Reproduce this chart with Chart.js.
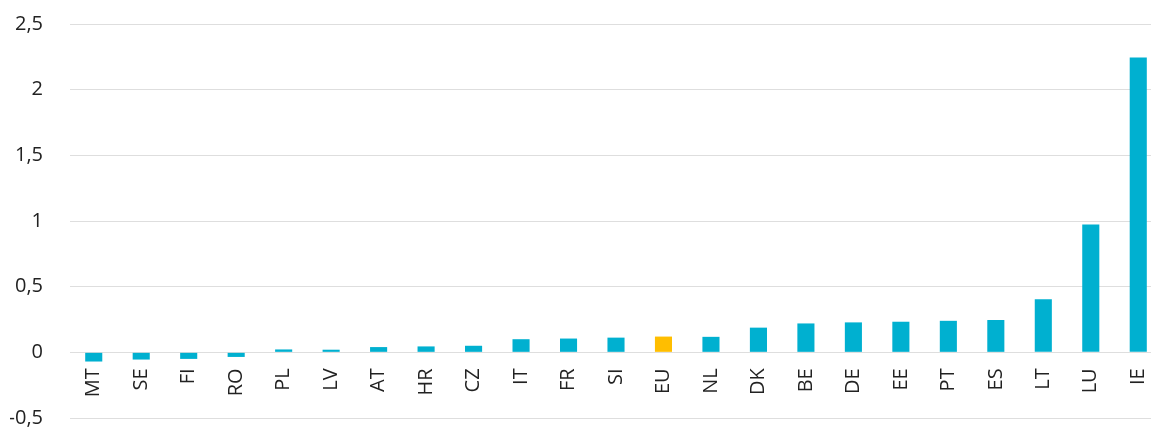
<!DOCTYPE html>
<html><head><meta charset="utf-8">
<script src="https://cdn.jsdelivr.net/npm/chart.js@4/dist/chart.umd.min.js"></script>
<style>html,body{margin:0;padding:0;overflow:hidden;background:#fff}#wrap{width:1162px;height:427px}</style>
</head><body><div id="wrap"><canvas id="c"></canvas></div>
<script>
const categories = ["MT","SE","FI","RO","PL","LV","AT","HR","CZ","IT","FR","SI","EU","NL","DK","BE","DE","EE","PT","ES","LT","LU","IE"];
const values = [-0.07,-0.055,-0.05,-0.035,0.022,0.02,0.04,0.045,0.05,0.1,0.105,0.112,0.12,0.118,0.188,0.22,0.228,0.233,0.24,0.246,0.405,0.974,2.245];
const highlight = "EU";
const yTicks = [-0.5,0,0.5,1,1.5,2,2.5];
const colors = categories.map(c => c === highlight ? '#ffbe00' : '#00b0d0');
new Chart(document.getElementById('c'), {
  type: 'bar',
  data: { labels: categories, datasets: [{ data: values, backgroundColor: colors, barPercentage: 0.36, categoryPercentage: 1 }] },
  options: {
    responsive: true, maintainAspectRatio: false, animation: false,
    layout: { padding: { left: 10, top: 24, bottom: 9, right: 0 } },
    plugins: { legend: { display: false }, tooltip: { enabled: false } },
    scales: {
      x: {
        position: { y: 0 },
        grid: { display: false, drawTicks: false },
        border: { display: false },
        afterFit: s => { s.height = 0; s.paddingLeft = 0; s.paddingRight = 0; },
        ticks: { color: '#222', font: { family: 'Open Sans', size: 20 }, minRotation: 90, maxRotation: 90, padding: 16, autoSkip: false }
      },
      y: {
        min: -0.5, max: 2.5,
        afterBuildTicks: s => { s.ticks = yTicks.map(v => ({ value: v })); },
        afterFit: s => { s.width = 60; s.paddingTop = 0; s.paddingBottom = 0; },
        grid: { color: '#dedede', drawTicks: false, lineWidth: 1 },
        border: { display: false },
        ticks: { color: '#222', font: { family: 'Open Sans', size: 20 }, padding: 27, callback: v => String(v).replace('.', ',') }
      }
    }
  }
});
</script></body></html>
